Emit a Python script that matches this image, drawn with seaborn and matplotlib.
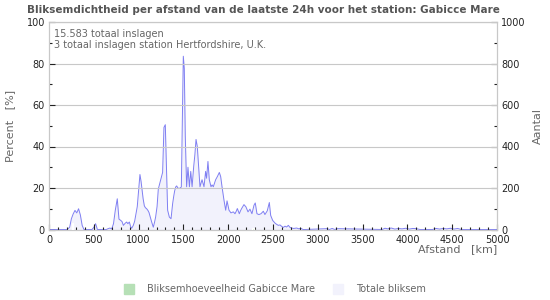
import matplotlib
matplotlib.use("Agg")
import matplotlib.pyplot as plt
import seaborn as sns
import pandas as pd
from matplotlib.ticker import MultipleLocator
from matplotlib.patches import Rectangle

# ---- data ----
afstand_km = [0, 200, 230, 250, 270, 290, 310, 330, 350, 370, 390, 480, 500, 520, 540,
              640, 660, 680, 700, 720, 740, 762, 781, 800, 815, 830, 850, 867, 880, 897,
              910, 923, 941, 956, 971, 985, 997, 1015, 1028, 1038, 1050, 1064, 1076, 1090,
              1104, 1116, 1130, 1146, 1164, 1178, 1190, 1206, 1220, 1235, 1250, 1268, 1283,
              1298, 1313, 1324, 1343, 1362, 1380, 1392, 1402, 1414, 1425, 1438, 1451, 1464,
              1477, 1488, 1499, 1510, 1521, 1536, 1551, 1567, 1582, 1597, 1615, 1628, 1641,
              1655, 1670, 1685, 1708, 1730, 1748, 1759, 1774, 1789, 1808, 1820, 1834, 1860,
              1879, 1901, 1916, 1931, 1953, 1972, 1987, 2009, 2031, 2057, 2076, 2090, 2102,
              2124, 2137, 2150, 2176, 2198, 2221, 2243, 2265, 2288, 2302, 2321, 2343, 2366,
              2392, 2410, 2436, 2459, 2474, 2496, 2522, 2540, 2559, 2578, 2597, 2615, 2634,
              2652, 2671, 2690, 2708, 2730, 2764, 2790, 2810, 2835, 2860, 3100, 3130, 3160,
              3190, 3220, 3720, 3750, 3780, 3820, 3860, 3900, 3940, 3980, 4020, 4060, 4100,
              4140, 4280, 4320, 4360, 4400, 4440, 4480, 4520, 4560, 4600, 5000]
totale_bliksem = [0, 0, 10, 52, 75, 92, 80, 100, 70, 20, 0, 0, 10, 28, 0,
                  0, 4, 7, 3, 28, 93, 148, 50, 44, 38, 20, 30, 36, 28, 36,
                  15, 6, 20, 40, 76, 110, 170, 265, 230, 195, 150, 114, 105, 100,
                  92, 82, 60, 36, 11, 35, 60, 110, 195, 220, 245, 275, 492,
                  505, 262, 93, 60, 52, 125, 160, 185, 205, 210, 200, 198, 200,
                  205, 530, 835, 775, 450, 206, 300, 206, 280, 206, 304, 360, 434,
                  400, 300, 206, 240, 206, 280, 247, 328, 240, 206, 215, 206, 240,
                  255, 275, 255, 206, 141, 93, 138, 93, 80, 85, 76, 88, 101,
                  76, 90, 101, 120, 109, 85, 98, 76, 117, 128, 76, 72, 76,
                  88, 72, 90, 130, 68, 44, 31, 25, 20, 22, 15, 10, 16,
                  12, 20, 10, 7, 5, 7, 3, 6, 0, 0, 4, 0, 5,
                  0, 4, 0, 6, 3, 7, 2, 5, 3, 6, 2, 5, 4,
                  0, 0, 5, 2, 5, 3, 6, 2, 5, 0, 0]

station_km = [262, 2280]
station_pct = [3.2, 0.9]

titel = "Bliksemdichtheid per afstand van de laatste 24h voor het station: Gabicce Mare"
info1 = "15.583 totaal inslagen"
info2 = "3 totaal inslagen station Hertfordshire, U.K."

df = pd.DataFrame({"afstand": afstand_km, "aantal": totale_bliksem})

sns.set_theme(style="white")
plt.rcParams["font.family"] = ["DejaVu Sans"]

fig = plt.figure(figsize=(5.5, 3.0), dpi=100)
ax = fig.add_axes([49/550, 1 - 229.5/300, 448/550, 207.5/300])
ax2 = ax.twinx()
ax.set_zorder(ax2.get_zorder() + 1)
ax.patch.set_visible(False)

line_c = "#7f7ff2"
fill_c = "#f2f2fc"
green_c = "#b6e0b6"
txt_c = "#666666"
spine_c = "#c8c8c8"

# left axis: percent
ax.set_xlim(0, 5000)
ax.set_ylim(0, 100)
ax.yaxis.set_major_locator(MultipleLocator(20))
ax.yaxis.set_minor_locator(MultipleLocator(10))
ax.xaxis.set_major_locator(MultipleLocator(500))
ax.xaxis.set_minor_locator(MultipleLocator(100))
ax.grid(axis="y", which="major", color="#c8c8c8", linewidth=0.8)
ax.set_axisbelow(True)

ax.bar(station_km, station_pct, width=20, color=green_c, zorder=3)

# right axis: counts
ax2.set_ylim(0, 1000)
ax2.fill_between(df["afstand"], df["aantal"], color=fill_c, linewidth=0, zorder=1)
sns.lineplot(data=df, x="afstand", y="aantal", ax=ax2, color=line_c, linewidth=0.7, zorder=2)
ax2.set_xlim(0, 5000)
ax2.yaxis.set_major_locator(MultipleLocator(200))
ax2.yaxis.set_minor_locator(MultipleLocator(100))
ax2.set_xlabel("")
ax2.set_ylabel("Aantal", color=txt_c, fontsize=8, labelpad=5)

for a in (ax, ax2):
    for s in a.spines.values():
        s.set_color(spine_c)
        s.set_linewidth(0.8)

ax.tick_params(axis="both", which="major", direction="in", length=4, width=0.8,
               color="#222222", labelsize=7, labelcolor="#222222", pad=3)
ax.tick_params(axis="x", which="major", pad=4)
ax.tick_params(axis="both", which="minor", direction="in", length=2.5, width=0.8,
               color="#222222")
ax.tick_params(axis="y", which="both", left=True, right=False)
ax.tick_params(axis="x", which="both", bottom=True, top=False)
ax2.tick_params(axis="y", which="major", direction="in", length=4, width=0.8,
                color="#222222", labelsize=7, labelcolor="#222222", pad=3)
ax2.tick_params(axis="y", which="minor", direction="in", length=2.5, width=0.8,
                color="#222222")

ax.set_ylabel("Percent   [%]", color=txt_c, fontsize=8, labelpad=8)
ax.set_xlabel("")

fig.text(497/550, 1 - 249/300, "Afstand   [km]", ha="right", va="center",
         color=txt_c, fontsize=8)
fig.text(263/550, 1 - 10/300, titel, ha="center", va="center",
         color="#555555", fontsize=7.5, fontweight="bold")
ax.text(60, 96.5, info1, ha="left", va="top", color=txt_c, fontsize=7,
        transform=ax.transData)
ax.text(60, 91.3, info2, ha="left", va="top", color=txt_c, fontsize=7,
        transform=ax.transData)

# legend
fig.patches.append(Rectangle((124/550, 1 - 294/300), 10/550, 10/300,
                             transform=fig.transFigure, color=green_c))
fig.text(147/550, 1 - 288.5/300, "Bliksemhoeveelheid Gabicce Mare", ha="left",
         va="center", color=txt_c, fontsize=7)
fig.patches.append(Rectangle((333/550, 1 - 294/300), 10/550, 10/300,
                             transform=fig.transFigure, color=fill_c))
fig.text(356/550, 1 - 288.5/300, "Totale bliksem", ha="left",
         va="center", color=txt_c, fontsize=7)

fig.savefig("out.png", dpi=100)
